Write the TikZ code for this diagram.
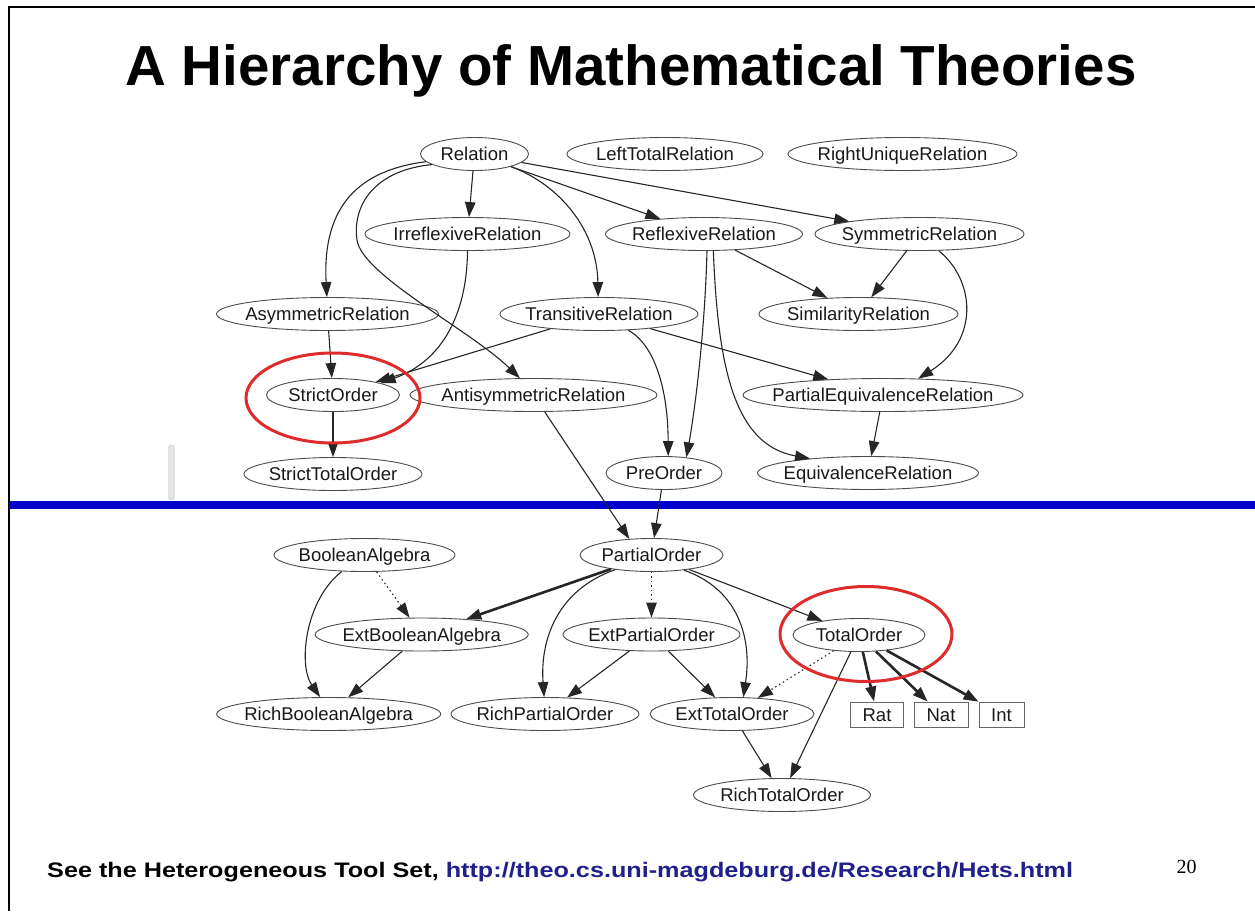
\documentclass[tikz,border=0pt]{standalone}
\usepackage{fontspec}
\setmainfont{Liberation Sans}
\newfontfamily\serifnum{Liberation Serif}
\usetikzlibrary{arrows.meta,shapes.geometric}
\definecolor{ringred}{RGB}{222,44,44}
\definecolor{barblue}{RGB}{0,0,204}
\definecolor{urlblue}{RGB}{32,32,140}
\newcommand\ntx[1]{\makebox[0pt]{#1}}
\newcommand\nodefont{\fontsize{18.5}{20}\selectfont}
\tikzset{
  el/.style={ellipse, draw=black!70, line width=0.9pt, inner sep=0pt, minimum height=33pt,
             text height=13.2pt, text depth=0pt, font=\nodefont, text=black!90},
  bx/.style={rectangle, draw=black!60, line width=0.9pt, inner sep=0pt, minimum height=25pt,
             text height=13.2pt, text depth=0pt, font=\nodefont, text=black!90},
  ed/.style={draw=black!85, line width=1.1pt, -{Triangle[length=15pt,width=10.5pt]}},
  edb/.style={ed, line width=2.6pt},
  edd/.style={ed, dash pattern=on 1.5pt off 3pt},
  ring/.style={ellipse, draw=ringred, line width=3pt, inner sep=0pt}
}
\begin{document}
\begin{tikzpicture}[x=1pt,y=-1pt]
\useasboundingbox (0,0) rectangle (1255,911);
\fill[white] (0,0) rectangle (1255,911);
% frame
\draw[line width=2pt] (9,911) -- (9,7) -- (1255,7);
% title
\node[font=\fontsize{56.5}{60}\selectfont\bfseries, anchor=base, inner sep=0pt] (title) at (631,85) {A Hierarchy of Mathematical Theories};
% faint bar
\node[draw=black!22, fill=black!10, rounded corners=3pt, minimum width=6pt, minimum height=55pt, inner sep=0pt] (bar) at (171.5,472.5) {};
% blue line
\fill[barblue] (9,501) rectangle (1255,509);

% nodes top
\node[el, minimum width=108pt] (rel) at (474.5,154) {\ntx{Relation}};
\node[el, minimum width=196pt] (ltr) at (665,154) {\ntx{LeftTotalRelation}};
\node[el, minimum width=229pt] (rur) at (902.5,154) {\ntx{RightUniqueRelation}};
\node[el, minimum width=205pt] (irr) at (467.5,234) {\ntx{IrreflexiveRelation}};
\node[el, minimum width=197pt] (refl) at (704,234) {\ntx{ReflexiveRelation}};
\node[el, minimum width=209pt] (sym) at (919.5,234) {\ntx{SymmetricRelation}};
\node[el, minimum width=222pt] (asym) at (327.5,314) {\ntx{AsymmetricRelation}};
\node[el, minimum width=198pt] (trans) at (599,314) {\ntx{TransitiveRelation}};
\node[el, minimum width=199pt] (sim) at (858.5,314) {\ntx{SimilarityRelation}};
\node[el, minimum width=133pt] (so) at (333,395) {\ntx{StrictOrder}};
\node[el, minimum width=247pt] (anti) at (533.5,395) {\ntx{AntisymmetricRelation}};
\node[el, minimum width=280pt] (peq) at (883,395) {\ntx{PartialEquivalenceRelation}};
\node[el, minimum width=178pt] (sto) at (333,474) {\ntx{StrictTotalOrder}};
\node[el, minimum width=116pt] (pre) at (664,473) {\ntx{PreOrder}};
\node[el, minimum width=221pt] (eq) at (868,473) {\ntx{EquivalenceRelation}};
% nodes bottom
\node[el, minimum width=181pt] (ba) at (364.5,555) {\ntx{BooleanAlgebra}};
\node[el, minimum width=143pt] (po) at (651.5,555) {\ntx{PartialOrder}};
\node[el, minimum width=213pt] (eba) at (421.7,634.5) {\ntx{ExtBooleanAlgebra}};
\node[el, minimum width=177pt] (epo) at (651.5,634.5) {\ntx{ExtPartialOrder}};
\node[el, minimum width=132pt] (tot) at (859,635) {\ntx{TotalOrder}};
\node[el, minimum width=224pt] (rba) at (328.7,714) {\ntx{RichBooleanAlgebra}};
\node[el, minimum width=188pt] (rpo) at (545,714) {\ntx{RichPartialOrder}};
\node[el, minimum width=164pt] (eto) at (732,714) {\ntx{ExtTotalOrder}};
\node[bx, minimum width=53pt] (rat) at (877,714.5) {\ntx{Rat}};
\node[bx, minimum width=54pt] (nat) at (941,714.5) {\ntx{Nat}};
\node[bx, minimum width=45pt] (int) at (1001.5,714.5) {\ntx{Int}};
\node[el, minimum width=177pt] (rto) at (782,795) {\ntx{RichTotalOrder}};

% edges top
\draw[ed] (rel) -- (irr);
\draw[ed] (rel.189) .. controls (360,170) and (322,205) .. (asym.92);
\draw[ed] (rel.194) .. controls (375,170) and (352,205) .. (357,240) .. controls (362,275) and (470,330) .. (anti.129.5);
\draw[ed] (rel.-19) .. controls (560,185) and (597,230) .. (trans.93);
\draw[ed] (rel) -- (refl);
\draw[ed] (rel) -- (sym);
\draw[ed] (irr.-90) .. controls (467,310) and (445,360) .. (so.14);
\draw[ed] (asym) -- (so);
\draw[ed] (trans) -- (so);
\draw[ed] (so) -- (sto);
\draw[ed] (trans.-29.4) .. controls (655,345) and (668,390) .. (pre.76);
\draw[ed] (trans) -- (peq);
\draw[ed] (refl.-80) .. controls (705,330) and (695,410) .. (pre.35);
\draw[ed] (refl.-61) .. controls (718,370) and (735,445) .. (eq.166);
\draw[ed] (refl) -- (sim);
\draw[ed] (sym) -- (sim);
\draw[ed] (sym.-41.3) .. controls (975,280) and (980,340) .. (peq.25.2);
\draw[ed] (peq) -- (eq);
\draw[ed] (anti) -- (po.144);
\draw[ed] (pre) -- (po);
% edges bottom
\draw[ed] (ba.216.7) .. controls (305,600) and (298,665) .. (rba.117.9);
\draw[edd] (ba) -- (eba);
\draw[ed] (eba) -- (rba);
\draw[edb] (po) -- (eba);
\draw[ed] (po.202.7) .. controls (557,590) and (540,640) .. (rpo.93);
\draw[edd] (po) -- (epo);
\draw[ed] (epo) -- (rpo);
\draw[ed] (epo) -- (eto);
\draw[ed] (po.-25.2) .. controls (740,590) and (752,640) .. (eto.56);
\draw[ed] (po) -- (tot);
\draw[edd] (tot) -- (eto);
\draw[ed] (tot) -- (rto);
\draw[ed] (eto) -- (rto);
\draw[edb] (tot) -- (rat);
\draw[edb] (tot) -- (nat);
\draw[edb] (tot) -- (int);

% red rings
\node[ring, minimum width=174pt, minimum height=90pt] (ring1) at (333,398) {};
\node[ring, minimum width=172pt, minimum height=95pt] (ring2) at (866,634) {};

% footer
\node[anchor=base west, inner sep=0pt] (foot) at (47,877) {\scalebox{1.2}[1]{\fontsize{21}{23}\selectfont\bfseries See the Heterogeneous Tool Set, \textcolor{urlblue}{http://theo.cs.uni-magdeburg.de/Research/Hets.html}}};
\node[anchor=base, inner sep=0pt, font=\serifnum\fontsize{20}{22}\selectfont] (pg) at (1186.7,873) {20};
\end{tikzpicture}
\end{document}
